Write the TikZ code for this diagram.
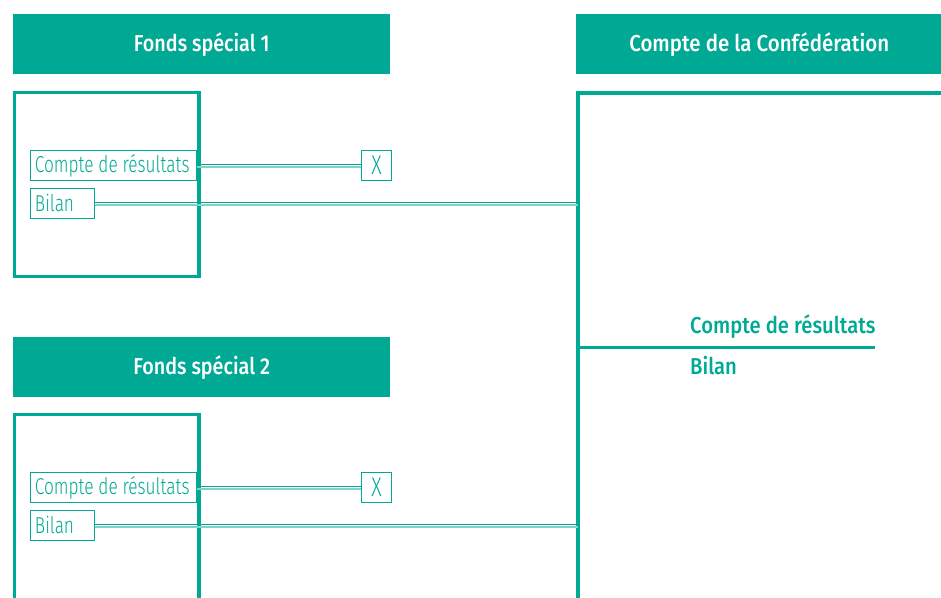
\documentclass[tikz,border=0pt]{standalone}
\usepackage{fontspec}
\setmainfont{Fira Sans}
\newfontfamily\lightf{Fira Sans Light}[FakeStretch=0.75]
\newfontfamily\boldf{Fira Sans Medium}[FakeStretch=0.86]
\newfontfamily\boldh{Fira Sans Medium}[FakeStretch=0.89]
\newfontfamily\boldg{Fira Sans Medium}[FakeStretch=0.88]
\definecolor{teal}{HTML}{00A994}
\definecolor{lteal}{HTML}{80D4CA}
\begin{document}
\begin{tikzpicture}[x=1pt,y=-1pt,
  hdr/.style={fill=teal,text=white,inner sep=0pt,anchor=north west,minimum width=377pt,minimum height=60pt,font=\boldf\fontsize{23}{25}\selectfont},
  fund/.style={draw=teal,line width=3.5pt},
  lbl/.style={draw=teal,line width=0.9pt,text=teal,inner ysep=0pt,inner xsep=4.5pt,anchor=north west,minimum height=30pt,font=\lightf\fontsize{23}{25}\selectfont},
  xbox/.style={draw=teal,line width=0.9pt,text=teal,inner sep=0pt,anchor=north west,minimum height=30pt,minimum width=30pt,font=\lightf\fontsize{27}{28}\selectfont},
  bigt/.style={text=teal,inner sep=0pt,anchor=west,font=\boldg\fontsize{23}{25}\selectfont},
  darkl/.style={draw=teal,line width=1.1pt},
  lightl/.style={draw=lteal,line width=2pt}]
\useasboundingbox (0,0) rectangle (941,597);
\clip (0,0) rectangle (941,597);
% headers
\node[hdr] (h1) at (13,14) {Fonds spécial 1};
\node[hdr] (h2) at (13,337) {Fonds spécial 2};
\node[hdr,minimum width=366pt,font=\boldh\fontsize{23}{25}\selectfont] (h3) at (576,14) {Compte de la Confédération};
% fund boxes
\draw[fund] (14.5,92.5) rectangle (199,276.5);
\draw[fund] (14.5,600) -- (14.5,414.5) -- (199,414.5) -- (199,600);
% big box
\coordinate (bigL) at (578,597);
\draw[fund] (578,600) -- (578,93) -- (945,93);
\draw[teal,line width=3pt] (578,347) -- (875,347);
\node[bigt] (rcr) at (690,327) {Compte de résultats};
\node[bigt] (rbil) at (690,366) {Bilan};
% labels fund 1
\node[lbl] (cr1) at (30,150) {\makebox[157pt][l]{Compte de résultats}};
\node[lbl] (bil1) at (30,188) {\makebox[55pt][l]{Bilan}};
\node[xbox] (x1) at (361,150) {X};
% labels fund 2
\node[lbl] (cr2) at (30,472) {\makebox[157pt][l]{Compte de résultats}};
\node[lbl] (bil2) at (30,510) {\makebox[55pt][l]{Bilan}};
\node[xbox] (x2) at (361,472) {X};
% connectors
\foreach \a/\b in {cr1/x1,cr2/x2}{
  \draw[lightl] ([yshift=-1.8pt]\a.east) -- ([yshift=-1.8pt]\b.west);
  \draw[darkl] ([yshift=1.2pt]\a.east) -- ([yshift=1.2pt]\b.west);
}
\foreach \a in {bil1,bil2}{
  \draw[lightl] ([yshift=-1.8pt]\a.east) -- ([yshift=-1.8pt]\a.east -| bigL);
  \draw[darkl] ([yshift=1.2pt]\a.east) -- ([yshift=1.2pt]\a.east -| bigL);
}
\end{tikzpicture}
\end{document}
